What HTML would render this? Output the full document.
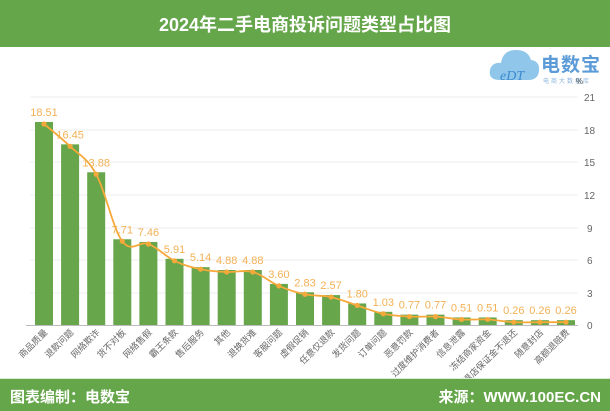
<!DOCTYPE html>
<html><head><meta charset="utf-8"><style>
html,body{margin:0;padding:0;background:#fff;}
svg{display:block;font-family:"Liberation Sans","Noto Sans CJK SC",sans-serif;}
</style></head><body>
<svg width="610" height="411" viewBox="0 0 610 411" xmlns="http://www.w3.org/2000/svg">
<rect x="0" y="0" width="610" height="47" fill="#66a64b"/>
<text x="305" y="31" text-anchor="middle" font-size="18" font-weight="bold" fill="#fff">2024年二手电商投诉问题类型占比图</text>
<g>
<path d="M500 80 Q488 80 490 70 Q492 62 501 63 Q503 50 516 50 Q528 50 531 60 Q540 61 539 71 Q538 80 528 80 Z" fill="#8fc6ea"/>
<text x="500" y="80" font-size="14" font-family="Liberation Serif,serif" font-style="italic" fill="#3d8ad0">eDT</text>
<text x="541" y="71" font-size="19" font-weight="bold" fill="#5b9bd8" letter-spacing="1">电数宝</text>
<text x="543" y="83" font-size="6" fill="#8ab4dc" letter-spacing="2">电商大数据库</text>
<text x="576" y="84" font-size="8" fill="#555">%</text>
</g>
<g id="grid" stroke="#eeeeee" stroke-width="1">
<line x1="30" y1="97" x2="578" y2="97"/>
<line x1="30" y1="130" x2="578" y2="130"/>
<line x1="30" y1="162" x2="578" y2="162"/>
<line x1="30" y1="195" x2="578" y2="195"/>
<line x1="30" y1="228" x2="578" y2="228"/>
<line x1="30" y1="260" x2="578" y2="260"/>
<line x1="30" y1="293" x2="578" y2="293"/>
</g>
<g font-size="10" fill="#666">
<text x="584" y="101">21</text><text x="584" y="134">18</text><text x="584" y="166">15</text>
<text x="584" y="199">12</text><text x="587" y="232">9</text><text x="587" y="264">6</text>
<text x="587" y="297">3</text><text x="587" y="329">0</text>
</g>
<g id="bars" fill="#67a64b"></g>
<line x1="26" y1="325.5" x2="578" y2="325.5" stroke="#bbb" stroke-width="1"/>
<path id="line" fill="none" stroke="#f5a93a" stroke-width="1.8"/>
<g id="dots" fill="#f5a93a"></g>
<g id="vals" font-size="11" fill="#f3b155" text-anchor="middle"></g>
<g id="cats" font-size="9" fill="#666" text-anchor="end"></g>
<line x1="0" y1="378.5" x2="610" y2="378.5" stroke="#d9ecd0" stroke-width="1"/>
<rect x="0" y="379" width="610" height="32" fill="#66a64b"/>
<text x="10" y="402" font-size="15" font-weight="bold" fill="#fff">图表编制：电数宝</text>
<text x="601" y="402" font-size="15" font-weight="bold" fill="#fff" text-anchor="end">来源：WWW.100EC.CN</text>
</svg>
<script>
var v=[18.51,16.45,13.88,7.71,7.46,5.91,5.14,4.88,4.88,3.60,2.83,2.57,1.80,1.03,0.77,0.77,0.51,0.51,0.26,0.26,0.26];
var c=["商品质量","退款问题","网络欺诈","货不对板","网络售假","霸王条款","售后服务","其他","退换货难","客服问题","虚假促销","任意仅退款","发货问题","订单问题","恶意罚款","过度维护消费者","信息泄露","冻结商家资金","退店保证金不退还","随意封店","高额退赔费"];
var ns="http://www.w3.org/2000/svg";
function el(t,a,p,txt){var e=document.createElementNS(ns,t);for(var k in a)e.setAttribute(k,a[k]);if(txt)e.textContent=txt;document.getElementById(p).appendChild(e);return e;}
var P=[];
for(var i=0;i<v.length;i++){
var cx=44+i*26.1, y=325-v[i]*10.86;
el("rect",{x:cx-9,y:y-2,width:18,height:325-y+2},"bars");
el("circle",{cx:cx,cy:y,r:2.6},"dots");
el("text",{x:cx,y:y-8},"vals",v[i].toFixed(2));
el("text",{x:cx+4,y:333,transform:"rotate(-45 "+(cx+4)+" 333)"},"cats",c[i]);
P.push([cx,y]);
}
var d="M"+P[0][0]+","+P[0][1];
for(var i=0;i<P.length-1;i++){
var p0=P[i>0?i-1:i],p1=P[i],p2=P[i+1],p3=P[i+2<P.length?i+2:i+1],t=0.18;
d+=" C"+(p1[0]+(p2[0]-p0[0])*t).toFixed(1)+","+(p1[1]+(p2[1]-p0[1])*t).toFixed(1)+" "+(p2[0]-(p3[0]-p1[0])*t).toFixed(1)+","+(p2[1]-(p3[1]-p1[1])*t).toFixed(1)+" "+p2[0].toFixed(1)+","+p2[1].toFixed(1);
}
document.getElementById("line").setAttribute("d",d);
</script>
</body></html>
